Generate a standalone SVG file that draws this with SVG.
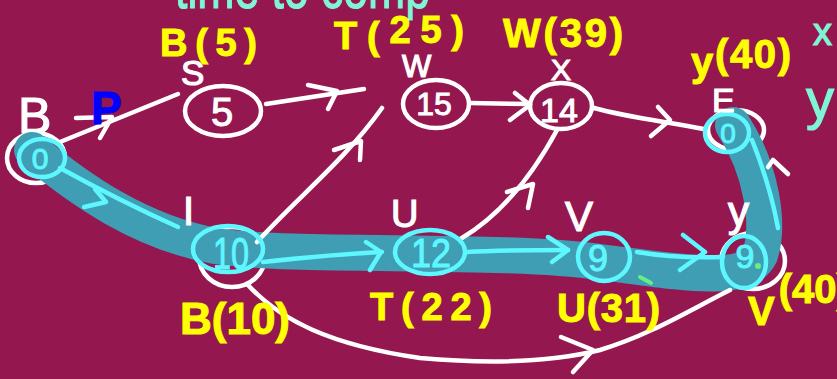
<svg xmlns="http://www.w3.org/2000/svg" width="837" height="379" viewBox="0 0 837 379">
  <style>
    .edge { fill: none; stroke: #ffffff; stroke-width: 4.5; stroke-linecap: round; stroke-linejoin: round; }
    .cy { fill: none; stroke: #5ff7ff; stroke-width: 4.5; stroke-linecap: round; stroke-linejoin: round; }
    .ring { fill: none; stroke: #ffffff; stroke-width: 4.5; }
    .cring { fill: none; stroke: #5ff7ff; stroke-width: 4.5; }
    .band { fill: none; stroke: #3f9db4; stroke-width: 36; stroke-linecap: round; stroke-linejoin: round; }
    .lbl { font-family: "Liberation Sans", Arial, sans-serif; fill: #ffffff; stroke: #ffffff; stroke-width: 1.2; }
    .num { font-family: "Liberation Sans", Arial, sans-serif; fill: #ffffff; stroke: #ffffff; stroke-width: 1; text-anchor: middle; }
    .cnum { font-family: "Liberation Sans", Arial, sans-serif; fill: #5ff7ff; stroke: #5ff7ff; stroke-width: 1; text-anchor: middle; }
    .dist { font-family: "Liberation Sans", Arial, sans-serif; font-weight: bold; fill: #ffff00; stroke: #ffff00; stroke-width: 1; }
    .mint { font-family: "Liberation Sans", Arial, sans-serif; fill: #7ff5d5; stroke: #7ff5d5; stroke-width: 1.2; }
  </style>

  <rect width="837" height="379" fill="#94174f"/>

  <!-- heading, running off the top edge -->
  <text class="mint" x="175" y="8" font-size="60" textLength="255" lengthAdjust="spacingAndGlyphs">time to comp</text>
  <text class="mint" x="813" y="45" font-size="38">x</text>
  <text class="mint" x="806" y="118" font-size="56">y</text>

  <!-- node rings drawn below the highlighted route -->
  <g id="node-B">
    <ellipse class="ring" cx="36" cy="158" rx="29" ry="25"/>
    <text class="lbl" x="18" y="133" font-size="50">B</text>
  </g>
  <g id="node-E-ring">
    <ellipse class="ring" cx="736" cy="130" rx="28" ry="20"/>
  </g>
  <g id="node-I-ring">
    <ellipse class="ring" cx="232" cy="257" rx="33" ry="30"/>
  </g>
  <g id="node-Y-ring">
    <ellipse class="ring" cx="753" cy="261" rx="32" ry="28"/>
  </g>

  <!-- highlighted shortest route B-I-U-V-Y-E -->
  <path class="band" d="M 32 150 C 80 190, 140 232, 215 246 C 300 258, 500 248, 600 262 C 680 272, 745 285, 760 255 C 770 225, 762 170, 733 125"/>

  <g id="connectors">
    <!-- B to S -->
    <path class="edge" d="M 60 142 L 178 94"/>
    <polyline class="edge" points="76,118 112,117 100,138"/>
    <!-- S to W -->
    <path class="edge" d="M 266 104 L 364 89"/>
    <polyline class="edge" points="308,85 337,91 328,109"/>
    <!-- I to W -->
    <path class="edge" d="M 257 242 C 300 195, 345 160, 382 108"/>
    <polyline class="edge" points="334,150 361,141 360,160"/>
    <!-- W to X -->
    <path class="edge" d="M 470 103 L 530 104"/>
    <polyline class="edge" points="515,93 530,105 510,120"/>
    <!-- U to X -->
    <path class="edge" d="M 462 238 C 500 215, 530 180, 557 130"/>
    <polyline class="edge" points="507,192 533,184 528,208"/>
    <!-- X to E -->
    <path class="edge" d="M 594 108 C 630 118, 670 122, 704 129"/>
    <polyline class="edge" points="658,107 670,120 651,136"/>
    <!-- I to Y, lower arc -->
    <path class="edge" d="M 248 285 C 280 320, 330 345, 420 358 C 500 365, 560 360, 600 350 C 650 335, 690 310, 730 290"/>
    <polyline class="edge" points="561,337 593,350 573,372"/>
    <!-- Y to E -->
    <path class="cy" d="M 752 140 C 762 165, 772 195, 778 228"/>
    <polyline class="edge" points="768,167 773,160 788,174"/>

    <!-- route arrows -->
    <path class="cy" d="M 60 168 C 100 190, 140 210, 178 227"/>
    <polyline class="cy" points="95,189 106,202 84,207"/>
    <path class="cy" d="M 263 262 C 300 258, 340 254, 382 252"/>
    <polyline class="cy" points="366,242 381,252 370,270"/>
    <path class="cy" d="M 467 252 C 500 250, 535 250, 568 250"/>
    <polyline class="cy" points="548,237 568,250 552,262"/>
    <path class="cy" d="M 637 252 C 660 256, 690 258, 723 257"/>
    <polyline class="cy" points="683,235 705,252 680,270"/>
  </g>

  <g id="node-B-mark">
    <ellipse class="cring" cx="42" cy="158" rx="23" ry="19"/>
    <text class="cnum" x="40" y="169" font-size="30">0</text>
  </g>

  <g id="node-S">
    <ellipse class="ring" cx="223" cy="111" rx="38" ry="25"/>
    <text class="lbl" x="181" y="85" font-size="35">S</text>
    <text class="num" x="222" y="126" font-size="40">5</text>
    <text class="dist" x="160" y="56" font-size="38" textLength="97" lengthAdjust="spacing">B(5)</text>
  </g>

  <g id="node-W">
    <ellipse class="ring" cx="436" cy="104" rx="33" ry="24"/>
    <text class="lbl" x="402" y="77" font-size="31">W</text>
    <text class="num" x="434" y="115" font-size="32">15</text>
    <text class="dist" x="334" y="49" font-size="38" textLength="130" lengthAdjust="spacing">T(<tspan dy="-6">25</tspan>)</text>
  </g>

  <g id="node-X">
    <ellipse class="ring" cx="561" cy="106" rx="31" ry="23"/>
    <text class="lbl" x="551" y="80" font-size="30">X</text>
    <text class="num" x="559" y="122" font-size="34">14</text>
    <text class="dist" x="503" y="47" font-size="40" textLength="120" lengthAdjust="spacing">W(39)</text>
  </g>

  <g id="node-E">
    <ellipse class="cring" cx="727" cy="133" rx="22" ry="19"/>
    <text class="lbl" x="712" y="112" font-size="34">E</text>
    <text class="cnum" x="728" y="143" font-size="28">0</text>
    <text class="dist" x="691" y="76" font-size="40" textLength="100" lengthAdjust="spacing">y<tspan dy="-8">(40)</tspan></text>
  </g>

  <g id="node-I">
    <ellipse class="cring" cx="228" cy="249" rx="35" ry="23"/>
    <text class="lbl" font-family="Liberation Serif" x="183" y="225" font-size="40">I</text>
    <text class="cnum" x="231" y="269" font-size="44" textLength="36" lengthAdjust="spacingAndGlyphs">10</text>
    <text class="dist" x="180" y="334" font-size="44" textLength="110" lengthAdjust="spacing">B(10)</text>
  </g>

  <g id="node-U">
    <ellipse class="cring" cx="430" cy="252" rx="35" ry="22"/>
    <text class="lbl" x="391" y="227" font-size="38">U</text>
    <text class="cnum" x="431" y="267" font-size="40" textLength="40" lengthAdjust="spacingAndGlyphs">12</text>
    <text class="dist" x="370" y="320" font-size="38" textLength="122" lengthAdjust="spacing">T(22)</text>
  </g>

  <g id="node-V">
    <ellipse class="cring" cx="604" cy="257" rx="26" ry="24"/>
    <text class="lbl" x="565" y="231" font-size="42">V</text>
    <text class="cnum" x="598" y="271" font-size="36">9</text>
    <text class="dist" x="557" y="322" font-size="40" textLength="103" lengthAdjust="spacing">U(31)</text>
  </g>

  <g id="node-Y">
    <ellipse class="cring" cx="744" cy="262" rx="22" ry="26"/>
    <text class="lbl" x="728" y="226" font-size="42">y</text>
    <text class="cnum" x="745" y="268" font-size="34">9</text>
    <circle cx="758" cy="266" r="3" fill="#66ee88"/>
    <path d="M 640 277 L 651 283" stroke="#66ee88" stroke-width="4" stroke-linecap="round"/>
    <text class="dist" x="748" y="325" font-size="40">V<tspan dx="4" dy="-22">(40)</tspan></text>
  </g>

  <text x="91" y="124" font-family="Liberation Sans, Arial, sans-serif" font-weight="bold" font-size="46" fill="#0000ff" stroke="#0000ff" stroke-width="1">P</text>
</svg>
